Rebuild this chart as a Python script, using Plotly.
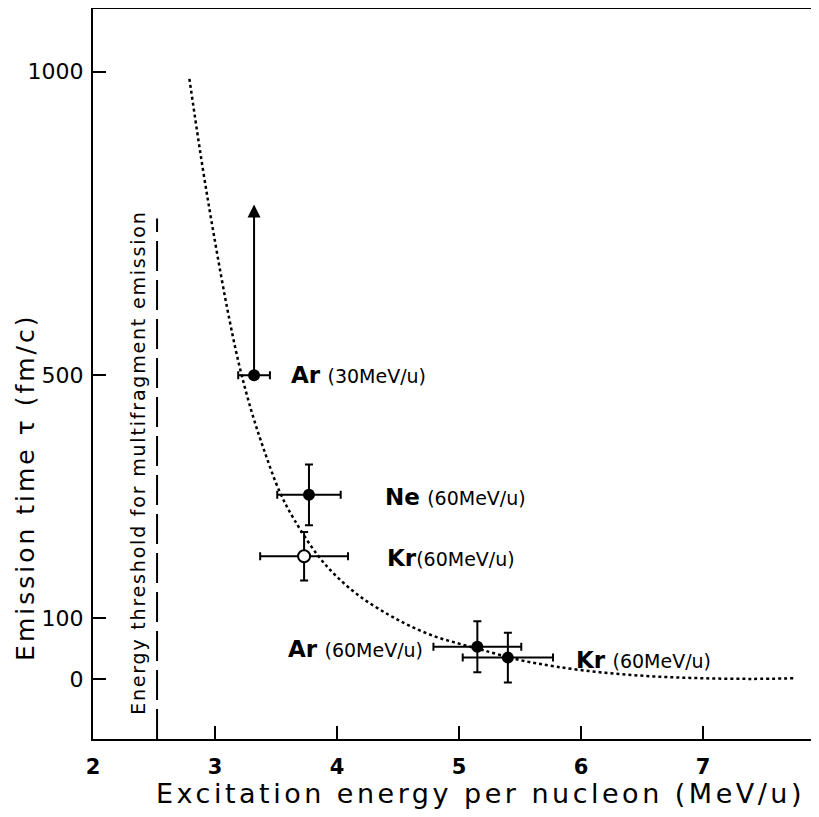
import plotly.graph_objects as go

# ---- data ----
pt_x = [3.32, 3.77, 5.15, 5.40]
pt_y = [500, 303, 53, 35]
pt_xerr = [0.13, 0.26, 0.36, 0.37]
pt_yerr = [0, 50, 42, 41]

open_x = [3.73]
open_y = [202]
open_xerr = [0.36]
open_yerr = [40]

arrow_from = 500
arrow_to = 781

curve_x = [2.79, 2.90, 3.00, 3.10, 3.20, 3.30, 3.40, 3.53, 3.65, 3.84, 4.00, 4.20,
           4.42, 4.60, 4.80, 5.00, 5.20, 5.50, 5.80, 6.20, 6.60, 7.00, 7.40, 7.75]
curve_y = [988, 840, 720, 610, 515, 440, 378, 308, 262, 204, 168, 134,
           106, 87, 70, 58, 47, 31, 20, 10, 4, 1, 0, 1]

threshold_x = 2.525
threshold_top = 758

x_ticks = [2, 3, 4, 5, 6, 7]
y_ticks = [0, 100, 500, 1000]

labels = [
    dict(x=3.61, y=500, text="<b>Ar</b> <span style='font-size:19px'>(30MeV/u)</span>", anchor="left"),
    dict(x=4.38, y=300, text="<b>Ne</b> <span style='font-size:19px'>(60MeV/u)</span>", anchor="left"),
    dict(x=4.39, y=199, text="<b>Kr</b><span style='font-size:19px'>(60MeV/u)</span>", anchor="left"),
    dict(x=4.72, y=50, text="<b>Ar</b> <span style='font-size:19px'>(60MeV/u)</span>", anchor="right"),
    dict(x=5.94, y=31, text="<b>Kr</b> <span style='font-size:19px'>(60MeV/u)</span>", anchor="left"),
]

FONT = "DejaVu Sans"

fig = go.Figure()

# dotted curve
fig.add_trace(go.Scatter(x=curve_x, y=curve_y, mode="lines", line_shape="spline",
                         line=dict(color="black", width=2.5, dash="3px,3px"),
                         hoverinfo="skip", showlegend=False))

# threshold dashed line
fig.add_trace(go.Scatter(x=[threshold_x, threshold_x], y=[-99, threshold_top], mode="lines",
                         line=dict(color="black", width=2, dash="30px,9px"),
                         showlegend=False, hoverinfo="skip"))

# filled points
fig.add_trace(go.Scatter(
    x=pt_x, y=pt_y, mode="markers",
    marker=dict(color="black", size=12),
    error_x=dict(type="data", array=pt_xerr, color="black", thickness=2, width=4),
    error_y=dict(type="data", array=pt_yerr, color="black", thickness=2, width=4),
    showlegend=False))

# open point
fig.add_trace(go.Scatter(
    x=open_x, y=open_y, mode="markers",
    marker=dict(color="white", size=12, line=dict(color="black", width=2)),
    error_x=dict(type="data", array=open_xerr, color="black", thickness=2, width=4),
    error_y=dict(type="data", array=open_yerr, color="black", thickness=2, width=4),
    showlegend=False))

# lower-limit arrow
fig.add_annotation(x=pt_x[0], y=arrow_to, ax=pt_x[0], ay=arrow_from,
                   xref="x", yref="y", axref="x", ayref="y",
                   showarrow=True, arrowhead=2, arrowsize=1.3, arrowwidth=2,
                   arrowcolor="black", text="")

for lb in labels:
    fig.add_annotation(x=lb["x"], y=lb["y"], text=lb["text"], showarrow=False,
                       xanchor=lb["anchor"], yanchor="middle",
                       font=dict(family=FONT, size=23, color="black"))

# threshold label
fig.add_annotation(x=2.37, y=356,
                   text="<span style='letter-spacing:1.8px'>Energy threshold for multifragment emission</span>",
                   textangle=-90, showarrow=False, xanchor="center", yanchor="middle",
                   font=dict(family=FONT, size=19, color="black"))

# axis titles
fig.add_annotation(xref="paper", yref="paper", x=-0.094, y=0.345,
                   text="<span style='letter-spacing:3px'>Emission time τ (fm/c)</span>",
                   textangle=-90, showarrow=False,
                   xanchor="center", yanchor="middle",
                   font=dict(family=FONT, size=25, color="black"))
fig.add_annotation(xref="paper", yref="paper", x=0.534, y=-0.074,
                   text="<span style='letter-spacing:3.5px'>Excitation energy per nucleon (MeV/u)</span>",
                   showarrow=False, xanchor="center", yanchor="middle",
                   font=dict(family=FONT, size=27, color="black"))

# page body has an 8px margin: size the figure so the plot area lands where the reference has it
fig.update_layout(
    width=811, height=809,
    margin=dict(l=85, r=0, t=1, b=78),
    paper_bgcolor="white", plot_bgcolor="white",
    font=dict(family=FONT, color="black"),
    xaxis=dict(range=[2, 7.95], tickvals=x_ticks,
               ticktext=[f"<b>{v}</b>" for v in x_ticks],
               ticks="inside", ticklen=13, tickwidth=1.5, tickcolor="black",
               showline=True, linecolor="black", linewidth=2, mirror=True,
               showgrid=False, zeroline=False,
               tickfont=dict(family=FONT, size=21, color="black"),
               ticklabelstandoff=8),
    yaxis=dict(range=[-99, 1103], tickvals=y_ticks,
               ticks="inside", ticklen=13, tickwidth=1.5, tickcolor="black",
               showline=True, linecolor="black", linewidth=2,
               showgrid=False, zeroline=False,
               tickfont=dict(family=FONT, size=22, color="black"),
               ticklabelstandoff=3),
)

fig.write_html("out.html")
